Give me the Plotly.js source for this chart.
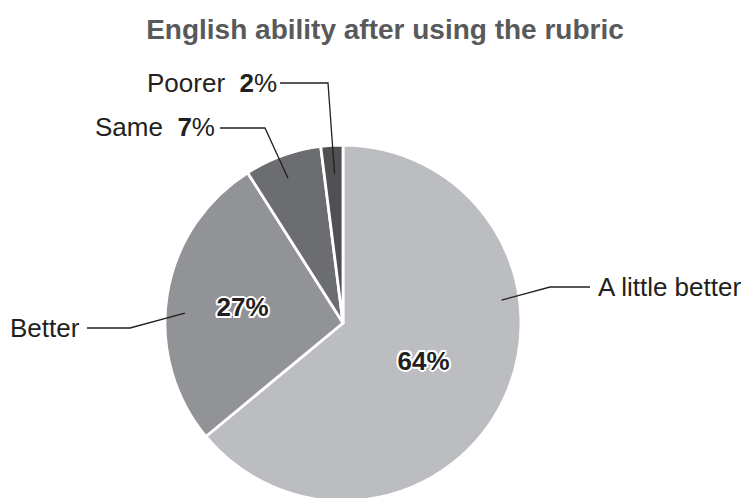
<!DOCTYPE html>
<html>
<head>
<meta charset="utf-8">
<script src="https://cdn.plot.ly/plotly-3.0.1.min.js"></script>
<style>
html, body { margin: 0; padding: 0; overflow: hidden; background: #fff; }
#chart { width: 747px; height: 560px; }
</style>
</head>
<body>
<div id="chart"></div>
<script>
// ---- data ----
const categories = ['A little better', 'Better', 'Same', 'Poorer'];
const values = [64, 27, 7, 2];
const sliceColors = ['#bcbdc0', '#929396', '#6c6d70', '#4f5052'];
const titleText = 'English ability after using the rubric';

// ---- layout parameters (pixels in the 747-wide canvas) ----
const W = 747, H = 560;
const CX = 343, CY = 323, R = 178;
const FONT = '"Liberation Sans", Arial, sans-serif';
// where the leader line touches each slice (fraction along slice angle, fraction of radius)
const anchorAngleFrac = [0.355, 0.444, 0.46, 0.55];
const anchorRadFrac = [0.9, 0.89, 0.87, 0.84];
// elbow and end points of leader lines, label anchors
const elbows = [[550, 287], [130, 328], [265, 128], [328, 83]];
const lineEnds = [[590, 287], [87, 328], [220, 128], [280, 83]];
const labelPos = [[597, 287, 'left'], [81, 328, 'right'], [216, 127, 'right'], [278, 83, 'right']];
const showPctOutside = [false, false, true, true];
const showPctInside = [true, true, false, false];

const px = x => x / W;
const py = y => 1 - y / H;

const total = values.reduce((a, b) => a + b, 0);
let cum = 0;
const shapes = [];
const annotations = [];
values.forEach((v, i) => {
  const start = cum / total, end = (cum + v) / total;
  cum += v;
  const f = start + (end - start) * anchorAngleFrac[i];
  const th = f * 2 * Math.PI;
  const ax = CX + R * anchorRadFrac[i] * Math.sin(th);
  const ay = CY - R * anchorRadFrac[i] * Math.cos(th);
  const [ex, ey] = elbows[i];
  const [lx, ly] = lineEnds[i];
  shapes.push({
    type: 'path', xref: 'paper', yref: 'paper',
    path: `M ${px(ax)},${py(ay)} L ${px(ex)},${py(ey)} L ${px(lx)},${py(ly)}`,
    line: { color: '#231f20', width: 1.3 }
  });
  const pct = Math.round(v / total * 100);
  const txt = showPctOutside[i]
    ? `${categories[i]}&nbsp; <b>${pct}</b>%`
    : categories[i];
  annotations.push({
    xref: 'paper', yref: 'paper',
    x: px(labelPos[i][0]), y: py(labelPos[i][1]),
    xanchor: labelPos[i][2], yanchor: 'middle',
    text: txt, showarrow: false, borderpad: 0,
    font: { family: FONT, size: 26, color: '#231f20' }
  });
});

const outline = '2px 0 0 #fff, -2px 0 0 #fff, 0 2px 0 #fff, 0 -2px 0 #fff, 1.5px 1.5px 0 #fff, -1.5px -1.5px 0 #fff, 1.5px -1.5px 0 #fff, -1.5px 1.5px 0 #fff';

const trace = {
  type: 'pie',
  labels: categories,
  values: values,
  sort: false,
  direction: 'clockwise',
  rotation: 0,
  marker: { colors: sliceColors, line: { color: '#ffffff', width: 2.8 } },
  texttemplate: values.map((v, i) => showPctInside[i] ? '%{percent:.0%}' : ''),
  textposition: 'inside',
  insidetextorientation: 'horizontal',
  textfont: { family: FONT, size: 26, color: '#231f20', weight: 'bold', shadow: outline },
  hoverinfo: 'none',
  showlegend: false,
  domain: { x: [px(CX - R), px(CX + R)], y: [py(CY + R), py(CY - R)] }
};

const layout = {
  width: W, height: H,
  margin: { l: 0, r: 0, t: 0, b: 0 },
  paper_bgcolor: '#ffffff',
  plot_bgcolor: '#ffffff',
  title: {
    text: '<b>' + titleText + '</b>',
    x: 385 / W, xanchor: 'center', xref: 'paper',
    y: 1 - 29 / H, yanchor: 'middle', yref: 'container',
    font: { family: FONT, size: 28, color: '#58595b' }
  },
  shapes: shapes,
  annotations: annotations,
  showlegend: false
};

Plotly.newPlot('chart', [trace], layout, { displayModeBar: false, staticPlot: true });
</script>
</body>
</html>
